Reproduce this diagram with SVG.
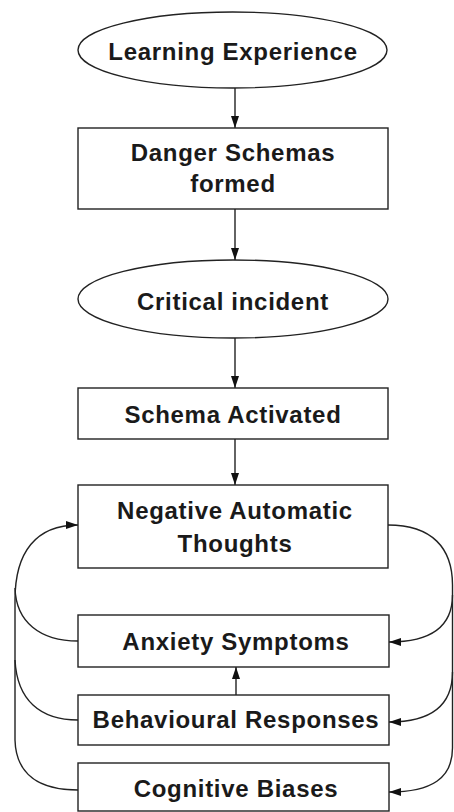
<svg xmlns="http://www.w3.org/2000/svg" width="454" height="812" viewBox="0 0 454 812">
<style>
.node{fill:#fff;stroke:#222;stroke-width:1.4}
.lbl{font-family:"Liberation Sans",Arial,sans-serif;font-weight:bold;font-size:24px;letter-spacing:0.7px;fill:#1a1a1a;text-anchor:middle}
.con{fill:none;stroke:#222;stroke-width:1.4}
</style>
<defs>
<marker id="ah" markerUnits="userSpaceOnUse" markerWidth="14" markerHeight="10" refX="12" refY="4.5" orient="auto">
<path d="M0,0.5 L12,4.5 L0,8.5 z" fill="#111"/>
</marker>
</defs>
<rect width="454" height="812" fill="#fff"/>
<g id="connectors">
<line class="con" x1="235" y1="88" x2="235" y2="128" marker-end="url(#ah)"/>
<line class="con" x1="235" y1="209" x2="235" y2="260" marker-end="url(#ah)"/>
<line class="con" x1="235" y1="338" x2="235" y2="388" marker-end="url(#ah)"/>
<line class="con" x1="235" y1="439" x2="235" y2="485" marker-end="url(#ah)"/>
<line class="con" x1="236" y1="695" x2="236" y2="667" marker-end="url(#ah)"/>
<path class="con" d="M78 790 C40 790 16 775 15 740 L15 600 C15 552 36 525 78 525" marker-end="url(#ah)"/>
<path class="con" d="M78 641 C40 641 16 622 15 588"/>
<path class="con" d="M78 720 C40 720 17 700 15 660"/>
<path class="con" d="M388 525 C432 525 452.5 548 452.5 585 L452.5 748 C452.5 778 432 792 389 792" marker-end="url(#ah)"/>
<path class="con" d="M452.5 595 C452.5 626 432 642 389 642" marker-end="url(#ah)"/>
<path class="con" d="M452.5 672 C452.5 705 432 722 389 722" marker-end="url(#ah)"/>
</g>
<g id="learning">
<ellipse class="node" cx="232.5" cy="50" rx="154.5" ry="38"/>
<text class="lbl" x="233" y="60">Learning Experience</text>
</g>
<g id="danger">
<rect class="node" x="78" y="128" width="310" height="81"/>
<text class="lbl" x="233" y="161">Danger Schemas</text>
<text class="lbl" x="233" y="192">formed</text>
</g>
<g id="critical">
<ellipse class="node" cx="233" cy="299" rx="155" ry="39"/>
<text class="lbl" x="233" y="310">Critical incident</text>
</g>
<g id="activated">
<rect class="node" x="78" y="388" width="310" height="51"/>
<text class="lbl" x="233" y="423">Schema Activated</text>
</g>
<g id="nat">
<rect class="node" x="78" y="485" width="310" height="83"/>
<text class="lbl" x="235" y="519">Negative Automatic</text>
<text class="lbl" x="235" y="552">Thoughts</text>
</g>
<g id="anxiety">
<rect class="node" x="78" y="615" width="311" height="52"/>
<text class="lbl" x="236" y="650">Anxiety Symptoms</text>
</g>
<g id="behavioural">
<rect class="node" x="78" y="695" width="311" height="50"/>
<text class="lbl" x="236" y="728">Behavioural Responses</text>
</g>
<g id="cognitive">
<rect class="node" x="78" y="763" width="311" height="48"/>
<text class="lbl" x="236" y="797">Cognitive Biases</text>
</g>
</svg>
